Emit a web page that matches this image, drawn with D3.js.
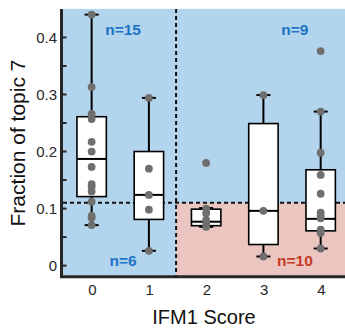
<!DOCTYPE html>
<html>
<head>
<meta charset="utf-8">
<script src="https://cdn.jsdelivr.net/npm/d3@7"></script>
<style>
  body { margin: 0; background: #fff; }
  svg { display: block; font-family: 'Liberation Sans', Arial, sans-serif; }
</style>
</head>
<body>
<figure style="margin:0"></figure>
<script>
const width = 345
const height = 332

// IFM1 score groups
const scores = [0, 1, 2, 3, 4]
// box statistics
const whiskerLo = [0.071, 0.026, 0.068, 0.016, 0.030]
const q1 = [0.121, 0.081, 0.070, 0.037, 0.061]
const medians = [0.187, 0.124, 0.077, 0.096, 0.082]
const q3 = [0.261, 0.200, 0.099, 0.249, 0.168]
const whiskerHi = [0.440, 0.294, 0.101, 0.299, 0.270]
// individual samples (fraction of topic 7)
const points = [
  [0.440, 0.313, 0.266, 0.257, 0.217, 0.200, 0.173, 0.143, 0.138, 0.130, 0.112, 0.087, 0.084, 0.071],
  [0.294, 0.170, 0.124, 0.098, 0.026],
  [0.180, 0.100, 0.092, 0.080, 0.074, 0.068],
  [0.299, 0.096, 0.016],
  [0.376, 0.270, 0.198, 0.159, 0.126, 0.093, 0.088, 0.083, 0.063, 0.057, 0.030]
]
const scoreSplit = 1.475
const fracSplit = 0.11
const countLabels = ['n=15', 'n=6', 'n=9', 'n=10']
const yTicks = [0, 0.05, 0.1, 0.15, 0.2, 0.25, 0.3, 0.35, 0.4]

const x = d3.scaleLinear().domain([-0.5, 4.5]).range([63, 349.3])
const y = d3.scaleLinear().domain([-0.018, 0.45]).range([275.9, 8.9])

const svg = d3.select('figure').append('svg')
  .attr('width', width)
  .attr('height', height)

const blue = '#b3d4ed'
const pink = '#ebc5bf'

// background regions
svg.append('rect')
  .attr('x', x(-0.5)).attr('y', y(0.45))
  .attr('width', x(4.5) - x(-0.5)).attr('height', y(-0.018) - y(0.45))
  .attr('fill', blue)
svg.append('rect')
  .attr('x', x(scoreSplit)).attr('y', y(fracSplit))
  .attr('width', x(4.5) - x(scoreSplit)).attr('height', y(-0.018) - y(fracSplit))
  .attr('fill', pink)

// threshold lines
svg.append('line')
  .attr('x1', x(scoreSplit)).attr('x2', x(scoreSplit))
  .attr('y1', y(0.45)).attr('y2', y(-0.018))
  .attr('stroke', '#111').attr('stroke-width', 2)
  .attr('stroke-dasharray', '4,3')
svg.append('line')
  .attr('x1', x(-0.5)).attr('x2', x(4.5))
  .attr('y1', y(fracSplit)).attr('y2', y(fracSplit))
  .attr('stroke', '#111').attr('stroke-width', 2)
  .attr('stroke-dasharray', '4,3')

// boxes
const boxHalf = 14.7
const capHalf = 7
const boxes = svg.append('g')
  .selectAll('g')
  .data(scores)
  .join('g')

boxes.append('line')
  .attr('x1', d => x(d)).attr('x2', d => x(d))
  .attr('y1', (d, i) => y(whiskerLo[i])).attr('y2', (d, i) => y(whiskerHi[i]))
  .attr('stroke', '#000').attr('stroke-width', 2)
boxes.append('line')
  .attr('x1', d => x(d) - capHalf).attr('x2', d => x(d) + capHalf)
  .attr('y1', (d, i) => y(whiskerLo[i])).attr('y2', (d, i) => y(whiskerLo[i]))
  .attr('stroke', '#000').attr('stroke-width', 2)
boxes.append('line')
  .attr('x1', d => x(d) - capHalf).attr('x2', d => x(d) + capHalf)
  .attr('y1', (d, i) => y(whiskerHi[i])).attr('y2', (d, i) => y(whiskerHi[i]))
  .attr('stroke', '#000').attr('stroke-width', 2)
boxes.append('rect')
  .attr('x', d => x(d) - boxHalf)
  .attr('y', (d, i) => y(q3[i]))
  .attr('width', boxHalf * 2)
  .attr('height', (d, i) => y(q1[i]) - y(q3[i]))
  .attr('fill', '#fff').attr('stroke', '#000').attr('stroke-width', 1.6)
boxes.append('line')
  .attr('x1', d => x(d) - boxHalf).attr('x2', d => x(d) + boxHalf)
  .attr('y1', (d, i) => y(medians[i])).attr('y2', (d, i) => y(medians[i]))
  .attr('stroke', '#000').attr('stroke-width', 2)

// sample points
boxes.each(function (d, i) {
  d3.select(this).selectAll('circle')
    .data(points[i])
    .join('circle')
    .attr('cx', x(d))
    .attr('cy', v => y(v))
    .attr('r', 3.9)
    .attr('fill', '#6f6f6f')
})

// axes
const axisColor = '#262626'
svg.append('line')
  .attr('x1', 61.5).attr('x2', 61.5).attr('y1', y(0.45)).attr('y2', 278)
  .attr('stroke', axisColor).attr('stroke-width', 3)
svg.append('line')
  .attr('x1', 60).attr('x2', width).attr('y1', 276.8).attr('y2', 276.8)
  .attr('stroke', axisColor).attr('stroke-width', 3)

svg.append('g')
  .selectAll('line')
  .data(yTicks)
  .join('line')
  .attr('x1', 62).attr('x2', 66.5)
  .attr('y1', d => y(d)).attr('y2', d => y(d))
  .attr('stroke', axisColor).attr('stroke-width', 2)

svg.append('g')
  .selectAll('text')
  .data(yTicks.filter((d, i) => i % 2 === 0))
  .join('text')
  .attr('x', 57)
  .attr('y', d => y(d) + 5.3)
  .attr('text-anchor', 'end')
  .attr('font-size', 15)
  .attr('fill', axisColor)
  .text(d => d === 0 ? '0' : d3.format('.1f')(d))

svg.append('g')
  .selectAll('text')
  .data(scores)
  .join('text')
  .attr('x', d => x(d) + 0.8)
  .attr('y', 295)
  .attr('text-anchor', 'middle')
  .attr('font-size', 15)
  .attr('fill', axisColor)
  .text(d => d)

svg.append('text')
  .attr('x', 204)
  .attr('y', 324)
  .attr('text-anchor', 'middle')
  .attr('font-size', 20)
  .attr('fill', '#111')
  .text('IFM1 Score')

svg.append('text')
  .attr('transform', 'translate(25,143) rotate(-90)')
  .attr('text-anchor', 'middle')
  .attr('font-size', 21)
  .attr('fill', '#111')
  .text('Fraction of topic 7')

// group counts
const labelPos = [[0.55, 0.405, '#1b74c5'], [0.55, 0.0, '#1b74c5'], [3.55, 0.405, '#1b74c5'], [3.55, 0.0, '#c43a26']]
svg.append('g')
  .selectAll('text')
  .data(countLabels)
  .join('text')
  .attr('x', (d, i) => x(labelPos[i][0]))
  .attr('y', (d, i) => y(labelPos[i][1]))
  .attr('text-anchor', 'middle')
  .attr('font-size', 15.5)
  .attr('font-weight', 'bold')
  .attr('fill', (d, i) => labelPos[i][2])
  .text(d => d)
</script>
</body>
</html>
